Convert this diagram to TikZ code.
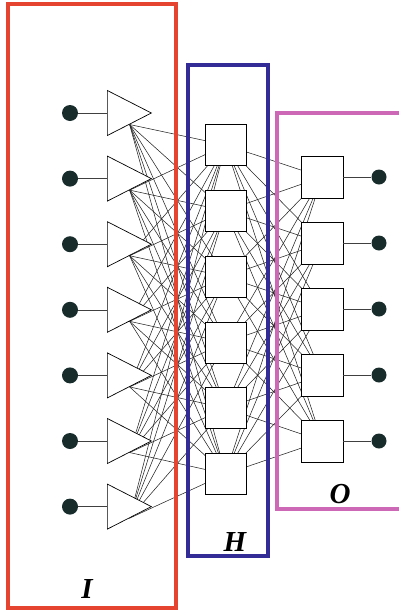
\documentclass[tikz,border=0pt]{standalone}
\usepackage{fontspec}
\setmainfont{Liberation Serif}
\usetikzlibrary{shapes.geometric,backgrounds}
\definecolor{iframe}{RGB}{228,68,48}
\definecolor{hframe}{RGB}{52,44,150}
\definecolor{oframe}{RGB}{204,104,182}
\definecolor{dotfill}{RGB}{24,44,44}

\begin{document}
\begin{tikzpicture}[x=1pt, y=-1pt,
    dot/.style={circle, fill=dotfill, minimum size=16pt, inner sep=0pt},
    amp/.style={isosceles triangle, isosceles triangle stretches, draw, fill=white, minimum width=45pt, minimum height=44pt, inner sep=0pt, line width=0.7pt},
    unit/.style={draw, fill=white, minimum size=41pt, inner sep=0pt, line width=0.7pt},
    wire/.style={line width=0.6pt, black!75},
    link/.style={line width=0.55pt, black!85},
    frame/.style={line width=3.2pt},
    tag/.style={font=\fontsize{29}{32}\selectfont\bfseries\itshape, inner sep=0pt}
]
\useasboundingbox (0,0) rectangle (399,611);

% input layer
\foreach \i in {1,...,7} {
  \node[dot] (x\i) at (70,{113+65.6*(\i-1)}) {};
  \node[amp, anchor=west] (t\i) at (107,{113+65.6*(\i-1)}) {};
  \draw[wire] (x\i) -- (t\i);
}
% hidden layer
\foreach \j in {1,...,6}
  \node[unit] (h\j) at (225.5,{145+65.8*(\j-1)}) {};
% output layer
\foreach \k in {1,...,5} {
  \node[unit, minimum size=42pt] (o\k) at (322,{177+66*(\k-1)}) {};
  \node[dot, minimum size=15pt] (y\k) at (379,{177+66*(\k-1)}) {};
  \draw[wire] (o\k) -- (y\k);
}

\begin{scope}[on background layer]
\foreach \i in {1,...,7}
  \foreach \j in {1,...,6}
    \draw[link] (t\i.right side) -- (h\j.center);
\foreach \j in {1,...,6}
  \foreach \k in {1,...,5}
    \draw[link] (h\j.center) -- (o\k.center);
\end{scope}

% layer frames
\draw[frame, iframe] (8,4) rectangle (176,608);
\draw[frame, hframe] (188,65) rectangle (268,556);
\draw[frame, oframe] (399,113) -| (277,509) -- (399,509);

\node[tag] (lI) at (87,589) {I};
\node[tag] (lH) at (235,542) {H};
\node[tag] (lO) at (340,494) {O};
\end{tikzpicture}
\end{document}
